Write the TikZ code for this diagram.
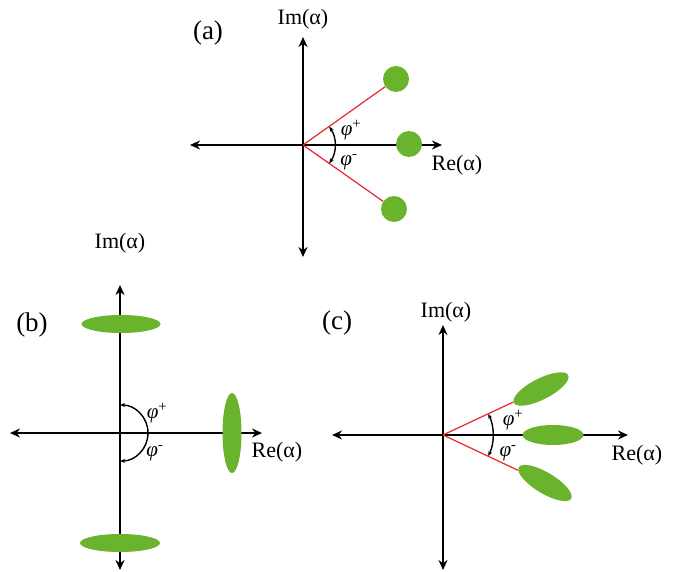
\documentclass[tikz,border=0pt]{standalone}
\usepackage{fontspec}
\setmainfont{Liberation Serif}
\usetikzlibrary{arrows.meta,shapes.geometric}
\definecolor{leaf}{RGB}{106,180,45}
\definecolor{rayred}{RGB}{232,38,44}
\tikzset{
  axis/.style={line width=2.4pt, {Stealth[length=10pt,width=9pt]}-{Stealth[length=10pt,width=9pt]}},
  blob/.style={ellipse, fill=leaf, inner sep=0pt},
  dot/.style={circle, fill=leaf, inner sep=0pt, minimum size=26pt},
  ray/.style={rayred, line width=1.2pt},
  anglearc/.style={line width=1.4pt, {Stealth[length=5pt,width=4pt]}-{Stealth[length=5pt,width=4pt]}},
  tag/.style={font=\fontsize{27}{27}\selectfont, inner sep=0pt},
  lbl/.style={font=\fontsize{22}{22}\selectfont, inner sep=0pt},
  philbl/.style={font=\fontsize{21}{21}\selectfont, inner sep=0pt},
}
\begin{document}
\begin{tikzpicture}[x=1pt,y=1pt]
\useasboundingbox (0,0) rectangle (677,-572);
% (a)
\coordinate (Oa) at (303,-145);
\coordinate (aL) at (190,-145);
\coordinate (aR) at (442,-145);
\coordinate (aT) at (303,-37);
\coordinate (aB) at (303,-257);
\draw[axis] (aL) -- (aR);
\draw[axis] (aT) -- (aB);
\node (a1)[dot] at (396,-79){};
\node (a2)[dot] at (409,-144){};
\node (a3)[dot] at (394,-209){};
\draw[ray] (Oa) -- (a1);
\draw[ray] (Oa) -- (a3);
\draw[anglearc] ([shift={(35:32)}]Oa) arc (35:-35:32);
\node (tagA)[tag] at (208,-33){(a)};
\node (imA)[lbl] at (303,-19){Im(α)};
\node (reA)[lbl] at (457,-165){Re(α)};
\node (phA1)[philbl] at (351,-130){\textit{φ}\textsuperscript{+}};
\node (phA2)[philbl] at (349,-162){\textit{φ}\textsuperscript{-}};
% (b)
\coordinate (Ob) at (120,-433);
\coordinate (bL) at (10,-433);
\coordinate (bR) at (262,-433);
\coordinate (bT) at (120,-285);
\coordinate (bB) at (120,-570);
\draw[axis] (bL) -- (bR);
\draw[axis] (bT) -- (bB);
\node (b1)[blob, minimum width=79pt, minimum height=18pt] at (121,-324){};
\node (b2)[blob, minimum width=19pt, minimum height=80pt] at (232,-433){};
\node (b3)[blob, minimum width=80pt, minimum height=18pt] at (120,-543){};
\draw[anglearc] ([shift={(90:28)}]Ob) arc (90:-90:28);
\node (tagB)[tag] at (32,-325){(b)};
\node (imB)[lbl] at (120,-243){Im(α)};
\node (reB)[lbl] at (277,-452){Re(α)};
\node (phB1)[philbl] at (157,-413){\textit{φ}\textsuperscript{+}};
\node (phB2)[philbl] at (155,-453){\textit{φ}\textsuperscript{-}};
% (c)
\coordinate (Oc) at (443,-435);
\coordinate (cL) at (332,-435);
\coordinate (cR) at (628,-435);
\coordinate (cT) at (443,-325);
\coordinate (cB) at (443,-570);
\draw[axis] (cL) -- (cR);
\draw[axis] (cT) -- (cB);
\node (c1)[blob, minimum width=61pt, minimum height=21pt, rotate=27] at (541,-389){};
\node (c2)[blob, minimum width=61pt, minimum height=20pt] at (553,-435){};
\node (c3)[blob, minimum width=61pt, minimum height=21pt, rotate=-31] at (545,-483){};
\draw[ray] (Oc) -- (c1);
\draw[ray] (Oc) -- (c3);
\draw[anglearc] ([shift={(25:50)}]Oc) arc (25:-25:50);
\node (tagC)[tag] at (337,-323){(c)};
\node (imC)[lbl] at (446,-312){Im(α)};
\node (reC)[lbl] at (637,-455){Re(α)};
\node (phC1)[philbl] at (513,-420){\textit{φ}\textsuperscript{+}};
\node (phC2)[philbl] at (508,-453){\textit{φ}\textsuperscript{-}};
\end{tikzpicture}
\end{document}
